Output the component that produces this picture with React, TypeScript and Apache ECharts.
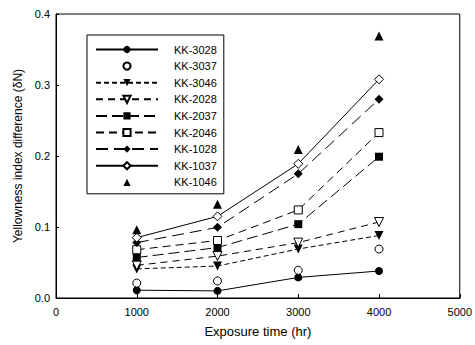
import React, { useEffect, useRef } from "react";
import * as echarts from "echarts";

const xValues = [1000, 2000, 3000, 4000];
const seriesNames = ["KK-3028", "KK-3037", "KK-3046", "KK-2028", "KK-2037", "KK-2046", "KK-1028", "KK-1037", "KK-1046"];
const kk3028 = [0.011, 0.010, 0.029, 0.038];
const kk3037 = [0.021, 0.024, 0.039, 0.069];
const kk3046 = [0.041, 0.045, 0.069, 0.088];
const kk2028 = [0.046, 0.059, 0.078, 0.107];
const kk2037 = [0.057, 0.071, 0.104, 0.199];
const kk2046 = [0.068, 0.081, 0.124, 0.233];
const kk1028 = [0.078, 0.0995, 0.175, 0.280];
const kk1037 = [0.085, 0.115, 0.189, 0.308];
const kk1046 = [0.096, 0.132, 0.209, 0.369];
const xTicks = [0, 1000, 2000, 3000, 4000, 5000];
const yTicks = [0.0, 0.1, 0.2, 0.3, 0.4];

const FONT = "Liberation Sans, Arial, sans-serif";
const DOWN_TRI = "path://M0,0L10,0L5,9Z";

type Spec = {
  data: number[];
  symbol: string;
  size: number;
  open: boolean;
  line: null | "solid" | number[];
};

const specs: Spec[] = [
  { data: kk3028, symbol: "circle", size: 8, open: false, line: "solid" },
  { data: kk3037, symbol: "circle", size: 8, open: true, line: null },
  { data: kk3046, symbol: DOWN_TRI, size: 9, open: false, line: [5, 3] },
  { data: kk2028, symbol: DOWN_TRI, size: 9, open: true, line: [7, 5] },
  { data: kk2037, symbol: "rect", size: 8, open: false, line: [11, 5] },
  { data: kk2046, symbol: "rect", size: 8, open: true, line: [8, 5] },
  { data: kk1028, symbol: "diamond", size: 9, open: false, line: [12, 6] },
  { data: kk1037, symbol: "diamond", size: 9, open: true, line: "solid" },
  { data: kk1046, symbol: "triangle", size: 9, open: false, line: null },
];

export default function App() {
  const ref = useRef<HTMLDivElement>(null);
  useEffect(() => {
    if (!ref.current) return;
    const chart = echarts.init(ref.current, null, { renderer: "svg" });
    const series = specs.map((s, i) => {
      const itemStyle = s.open
        ? { color: "#fff", borderColor: "#000", borderWidth: 1, opacity: 1 }
        : { color: "#000", borderColor: "#000", borderWidth: 0, opacity: 1 };
      const data = xValues.map((x, j) => [x, s.data[j]]);
      const noLine = s.line === null;
      return {
        name: seriesNames[i],
        type: "line",
        data,
        symbol: s.symbol,
        symbolSize: s.size,
        showAllSymbol: true,
        itemStyle,
        lineStyle: noLine
          ? { color: "#000", width: 0, opacity: 0 }
          : { color: "#000", width: 1, type: s.line },
        z: noLine ? 3 : 2,
      };
    });
    chart.setOption({
      animation: false,
      backgroundColor: "#fff",
      textStyle: { fontFamily: FONT, color: "#000" },
      grid: {
        left: 56,
        right: 11,
        top: 14,
        bottom: 47,
        show: true,
        borderColor: "#000",
        borderWidth: 1,
        backgroundColor: "transparent",
      },
      legend: {
        show: true,
        orient: "vertical",
        left: 87,
        top: 35,
        itemWidth: 62,
        itemHeight: 9,
        itemGap: 5.6,
        padding: [9, 7, 6, 8],
        borderColor: "#000",
        borderWidth: 1,
        backgroundColor: "#fff",
        data: seriesNames,
        textStyle: { fontFamily: FONT, fontSize: 11, color: "#000", padding: [0, 0, 0, 11] },
      },
      xAxis: {
        type: "value",
        min: xTicks[0],
        max: xTicks[xTicks.length - 1],
        interval: 1000,
        name: "Exposure time (hr)",
        nameLocation: "middle",
        nameGap: 27,
        nameTextStyle: { fontFamily: FONT, fontSize: 13, color: "#000" },
        axisLine: { show: true, lineStyle: { color: "#000", width: 1 } },
        axisTick: { show: true, inside: true, length: 4, lineStyle: { color: "#000" } },
        axisLabel: {
          color: "#000",
          fontSize: 11,
          fontFamily: FONT,
          margin: 8,
          formatter: (v: number) => String(v),
        },
        splitLine: { show: false },
      },
      yAxis: {
        type: "value",
        min: yTicks[0],
        max: yTicks[yTicks.length - 1],
        interval: 0.1,
        name: "Yellowness index difference (δN)",
        nameLocation: "middle",
        nameGap: 28,
        nameTextStyle: { fontFamily: FONT, fontSize: 12, color: "#000" },
        axisLine: { show: true, lineStyle: { color: "#000", width: 1 } },
        axisTick: { show: true, inside: true, length: 3, lineStyle: { color: "#000" } },
        axisLabel: {
          color: "#000",
          fontSize: 11,
          fontFamily: FONT,
          margin: 6,
          formatter: (v: number) => v.toFixed(1),
        },
        splitLine: { show: false },
      },
      series,
    });
    return () => chart.dispose();
  }, []);
  return <div ref={ref} style={{ width: 475, height: 345, position: "absolute", left: 0, top: 0 }} />;
}
